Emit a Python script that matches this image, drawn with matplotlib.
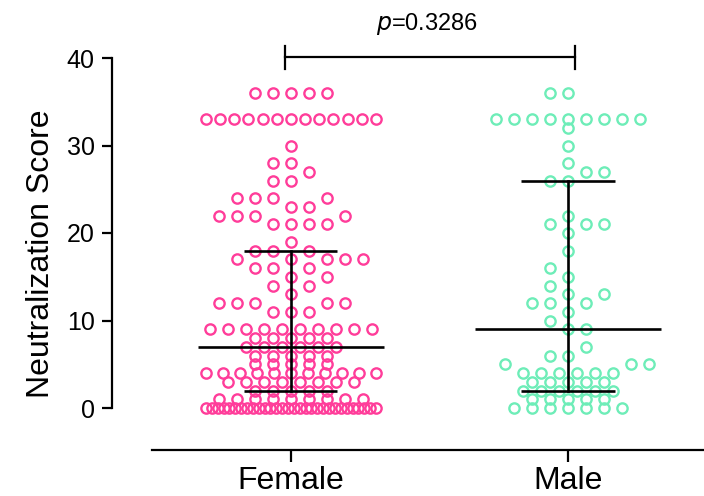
import numpy as np
import matplotlib
matplotlib.use("Agg")
import matplotlib.pyplot as plt

plt.rcParams['font.family'] = ['Liberation Sans', 'DejaVu Sans']

# scores: value -> number of dots
groups = ["Female", "Male"]
female_values = [36, 33, 30, 28, 27, 26, 24, 23, 22, 21, 19, 18, 17, 16, 15,
                 14, 13, 12, 11, 9, 8, 7, 6, 5, 4, 3, 2, 1, 0]
female_counts = [5, 13, 1, 2, 1, 2, 4, 2, 4, 4, 1, 3, 5, 3, 2,
                 2, 1, 5, 3, 10, 5, 6, 5, 5, 11, 8, 5, 9, 30]
male_values = [36, 33, 32, 30, 28, 27, 26, 22, 21, 20, 18, 16, 15, 14, 13,
               12, 11, 10, 9, 7, 6, 5, 4, 3, 2, 1, 0]
male_counts = [2, 9, 1, 1, 1, 2, 2, 1, 3, 1, 1, 1, 1, 1, 2,
               3, 1, 1, 2, 1, 2, 3, 6, 5, 6, 5, 7]

# median and interquartile range as drawn
medians = [7, 9]
q1 = [2, 2]
q3 = [18, 26]

p_text = "=0.3286"
colors = ["#FF3D9A", "#6EEDB8"]

PX = 277.0   # pixels per group unit on x


def swarm(values, counts, center, step=18.0, half_max=85.0):
    """Prism-like scatter: dots on a 9 px grid, rows try to avoid their neighbours."""
    placed = {}
    slots = sorted(range(-9, 10), key=lambda s: (abs(s), s))
    for v, n in sorted(zip(values, counts)):
        near = placed.get(v - 1, []) + placed.get(v + 1, [])
        order = slots if v % 2 == 0 else sorted(slots, key=lambda s: (abs(s), -s))
        chosen = []
        for s in order:
            if len(chosen) == n:
                break
            if any(abs(s * 9 - p) < step - 0.5 for p in near):
                continue
            if any(abs(s * 9 - c) < step - 0.5 for c in chosen):
                continue
            chosen.append(s * 9.0)
        if len(chosen) < n:
            st = step
            if n > 1 and (n - 1) * st > 2 * half_max:
                st = 2 * half_max / (n - 1)
            chosen = list((np.arange(n) - (n - 1) / 2) * st)
        placed[v] = chosen
    xs, ys = [], []
    for v, offs in placed.items():
        xs.extend(center + np.array(offs) / PX)
        ys.extend([v] * len(offs))
    return np.array(xs), np.array(ys)


fig = plt.figure(figsize=(7.04, 4.96), dpi=100)
ax = fig.add_axes([112 / 704, 46 / 496, 592 / 704, 392 / 496])

data = [(female_values, female_counts), (male_values, male_counts)]
for i, (vals, cnts) in enumerate(data):
    x, y = swarm(vals, cnts, i)
    ax.plot(x, y, 'o', ms=7.4, mfc='none', mec=colors[i], mew=1.7,
            clip_on=False, zorder=2)
    # median + IQR
    ax.plot([i - 0.335, i + 0.335], [medians[i]] * 2, color='black', lw=1.9,
            zorder=3, solid_capstyle='butt')
    ax.plot([i - 0.168, i + 0.168], [q1[i]] * 2, color='black', lw=1.9, zorder=3,
            solid_capstyle='butt')
    ax.plot([i - 0.168, i + 0.168], [q3[i]] * 2, color='black', lw=1.9, zorder=3,
            solid_capstyle='butt')
    ax.plot([i, i], [q1[i], q3[i]], color='black', lw=1.9, zorder=3)

ax.set_xlim(-0.646, 1.491)
ax.set_ylim(-4.8, 40)

for s in ['top', 'right']:
    ax.spines[s].set_visible(False)
ax.spines['left'].set_bounds(0, 40)
ax.spines['bottom'].set_bounds(-0.502, 1.491)
ax.spines['left'].set_linewidth(1.6)
ax.spines['bottom'].set_linewidth(1.6)

ax.set_yticks([0, 10, 20, 30, 40])
ax.set_xticks([0, 1])
ax.set_xticklabels(groups)
ax.tick_params(axis='y', length=7.5, width=1.6, labelsize=18, pad=5)
ax.tick_params(axis='x', length=8.5, width=1.6, labelsize=23, pad=3)
ax.set_ylabel("Neutralization Score", fontsize=23, labelpad=8)

# significance bracket
ax.plot([-0.02, 1.025], [40.1, 40.1], color='black', lw=1.6, clip_on=False)
ax.plot([-0.02, -0.02], [38.7, 41.4], color='black', lw=1.6, clip_on=False)
ax.plot([1.025, 1.025], [38.7, 41.4], color='black', lw=1.6, clip_on=False)
ax.text(0.49, 43.9, r"$\it{p}$" + p_text, ha='center', va='center', fontsize=17,
        clip_on=False)

fig.savefig("out.png", dpi=100)
